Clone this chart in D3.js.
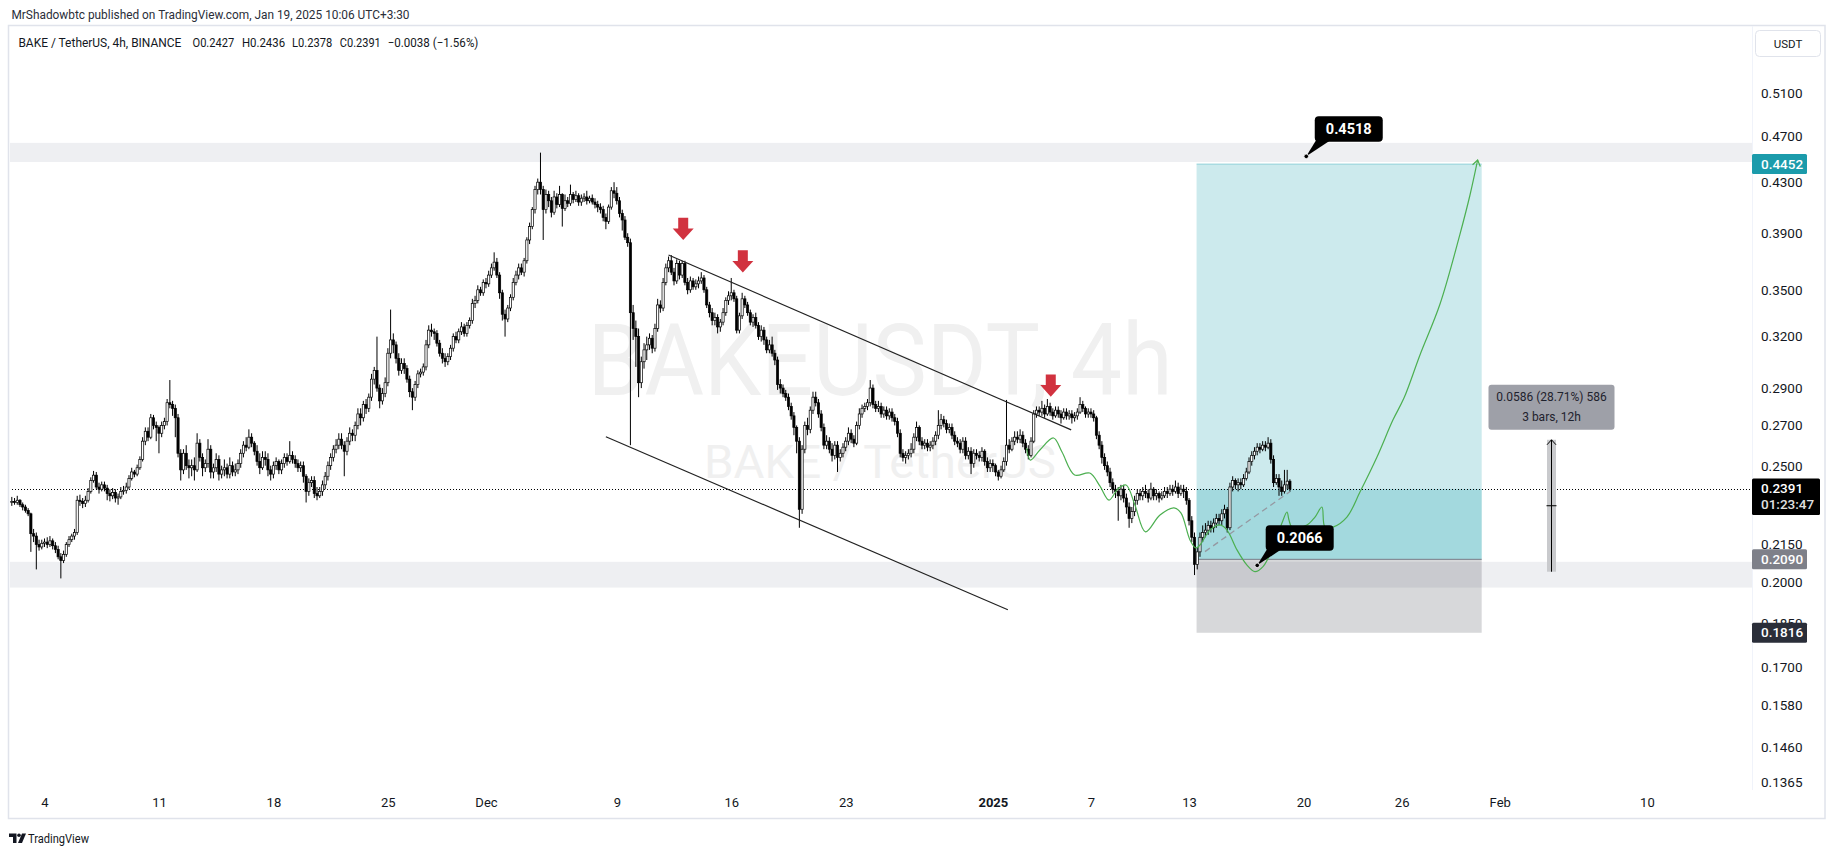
<!DOCTYPE html>
<html><head><meta charset="utf-8">
<script src="https://cdn.jsdelivr.net/npm/d3@7"></script>
<style>
html,body{margin:0;padding:0;background:#fff;}
svg{display:block;font-family:Roboto,"Open Sans",sans-serif;}
</style></head><body>
<svg id="c" width="1835" height="855"></svg>
<script>
// ---------------- DATA ----------------
const startTime = "2024-11-02T00:00:00Z"; // first 4h bar
const firstOpen = 0.2330;
const closes = [
0.2335,0.2330,0.2340,0.2320,0.2310,0.2295,
0.2280,0.2195,0.2185,0.2150,0.2140,0.2155,
0.2160,0.2150,0.2165,0.2145,0.2130,0.2100,
0.2085,0.2110,0.2150,0.2170,0.2185,0.2200,
0.2340,0.2335,0.2325,0.2340,0.2380,0.2430,
0.2455,0.2400,0.2390,0.2410,0.2395,0.2370,
0.2360,0.2375,0.2350,0.2355,0.2380,0.2385,
0.2400,0.2440,0.2470,0.2460,0.2490,0.2530,
0.2620,0.2670,0.2640,0.2740,0.2700,0.2690,
0.2660,0.2700,0.2720,0.2820,0.2810,0.2790,
0.2740,0.2560,0.2480,0.2560,0.2500,0.2490,
0.2500,0.2480,0.2610,0.2540,0.2490,0.2510,
0.2580,0.2470,0.2490,0.2530,0.2460,0.2480,
0.2490,0.2460,0.2500,0.2470,0.2480,0.2510,
0.2560,0.2600,0.2590,0.2640,0.2610,0.2570,
0.2520,0.2490,0.2540,0.2530,0.2480,0.2460,
0.2500,0.2520,0.2480,0.2510,0.2540,0.2520,
0.2550,0.2530,0.2510,0.2490,0.2500,0.2450,
0.2380,0.2420,0.2430,0.2370,0.2360,0.2380,
0.2410,0.2450,0.2500,0.2540,0.2580,0.2600,
0.2630,0.2600,0.2570,0.2620,0.2660,0.2650,
0.2700,0.2760,0.2740,0.2810,0.2790,0.2850,
0.2950,0.3000,0.2900,0.2830,0.2870,0.2930,
0.3100,0.3180,0.3150,0.3070,0.3000,0.3040,
0.3010,0.2950,0.2880,0.2850,0.2920,0.2980,
0.2990,0.3020,0.3150,0.3240,0.3230,0.3220,
0.3160,0.3100,0.3070,0.3050,0.3080,0.3130,
0.3200,0.3180,0.3230,0.3260,0.3220,0.3270,
0.3300,0.3410,0.3430,0.3500,0.3480,0.3550,
0.3540,0.3600,0.3650,0.3690,0.3600,0.3480,
0.3340,0.3310,0.3380,0.3450,0.3550,0.3600,
0.3650,0.3620,0.3700,0.3850,0.3950,0.4080,
0.4240,0.4300,0.4240,0.4080,0.4200,0.4150,
0.4060,0.4180,0.4120,0.4200,0.4090,0.4150,
0.4130,0.4200,0.4160,0.4190,0.4140,0.4170,
0.4180,0.4150,0.4170,0.4140,0.4120,0.4100,
0.4080,0.4020,0.3990,0.4100,0.4230,0.4210,
0.4150,0.4050,0.4000,0.3870,0.3830,0.3350,
0.3250,0.3200,0.2930,0.3050,0.3120,0.3150,
0.3190,0.3130,0.3250,0.3400,0.3380,0.3550,
0.3650,0.3700,0.3620,0.3560,0.3680,0.3600,
0.3680,0.3550,0.3500,0.3560,0.3520,0.3540,
0.3560,0.3580,0.3500,0.3400,0.3350,0.3300,
0.3320,0.3260,0.3290,0.3350,0.3430,0.3460,
0.3480,0.3440,0.3240,0.3330,0.3440,0.3400,
0.3350,0.3290,0.3320,0.3270,0.3200,0.3240,
0.3180,0.3120,0.3150,0.3100,0.3060,0.2920,
0.2900,0.2870,0.2850,0.2800,0.2750,0.2690,
0.2620,0.2300,0.2580,0.2700,0.2680,0.2780,
0.2850,0.2820,0.2760,0.2690,0.2600,0.2620,
0.2580,0.2550,0.2600,0.2540,0.2560,0.2590,
0.2620,0.2660,0.2630,0.2610,0.2700,0.2760,
0.2790,0.2800,0.2820,0.2900,0.2810,0.2790,
0.2800,0.2760,0.2780,0.2750,0.2770,0.2740,
0.2720,0.2660,0.2560,0.2540,0.2550,0.2560,
0.2580,0.2640,0.2690,0.2620,0.2600,0.2610,
0.2590,0.2600,0.2620,0.2650,0.2700,0.2730,
0.2710,0.2680,0.2690,0.2650,0.2620,0.2610,
0.2580,0.2620,0.2550,0.2570,0.2510,0.2560,
0.2550,0.2540,0.2570,0.2520,0.2490,0.2510,
0.2500,0.2470,0.2450,0.2480,0.2520,0.2600,
0.2580,0.2620,0.2640,0.2630,0.2650,0.2610,
0.2580,0.2550,0.2620,0.2760,0.2780,0.2770,
0.2790,0.2760,0.2800,0.2770,0.2750,0.2780,
0.2760,0.2740,0.2770,0.2750,0.2760,0.2740,
0.2750,0.2770,0.2810,0.2790,0.2760,0.2770,
0.2760,0.2740,0.2650,0.2600,0.2540,0.2500,
0.2470,0.2420,0.2390,0.2380,0.2360,0.2390,
0.2350,0.2310,0.2260,0.2290,0.2340,0.2370,
0.2360,0.2380,0.2370,0.2350,0.2390,0.2360,
0.2370,0.2350,0.2360,0.2380,0.2370,0.2390,
0.2380,0.2400,0.2370,0.2390,0.2380,0.2340,
0.2250,0.2180,0.2070,0.2120,0.2180,0.2200,
0.2210,0.2230,0.2220,0.2240,0.2260,0.2250,
0.2280,0.2300,0.2220,0.2400,0.2430,0.2410,
0.2420,0.2410,0.2440,0.2470,0.2520,0.2550,
0.2570,0.2590,0.2580,0.2600,0.2590,0.2610,
0.2530,0.2420,0.2440,0.2400,0.2380,0.2410,
0.2427,0.2391];
const highs = [
0.2355,0.2350,0.2360,0.2345,0.2330,0.2320,
0.2305,0.2285,0.2215,0.2200,0.2170,0.2170,
0.2175,0.2180,0.2185,0.2175,0.2160,0.2145,
0.2115,0.2125,0.2160,0.2185,0.2195,0.2215,
0.2360,0.2365,0.2350,0.2360,0.2395,0.2445,
0.2475,0.2470,0.2420,0.2425,0.2425,0.2410,
0.2390,0.2395,0.2390,0.2370,0.2400,0.2405,
0.2420,0.2455,0.2490,0.2480,0.2505,0.2545,
0.2640,0.2690,0.2690,0.2760,0.2755,0.2720,
0.2700,0.2720,0.2740,0.2840,0.2945,0.2830,
0.2810,0.2760,0.2580,0.2580,0.2600,0.2530,
0.2530,0.2540,0.2660,0.2630,0.2560,0.2530,
0.2630,0.2600,0.2510,0.2560,0.2550,0.2500,
0.2530,0.2510,0.2540,0.2520,0.2510,0.2530,
0.2580,0.2620,0.2640,0.2680,0.2660,0.2620,
0.2600,0.2560,0.2570,0.2570,0.2560,0.2500,
0.2520,0.2540,0.2530,0.2530,0.2560,0.2560,
0.2620,0.2570,0.2550,0.2530,0.2520,0.2520,
0.2460,0.2440,0.2450,0.2450,0.2400,0.2400,
0.2430,0.2470,0.2520,0.2560,0.2600,0.2630,
0.2660,0.2660,0.2620,0.2640,0.2690,0.2680,
0.2720,0.2790,0.2790,0.2830,0.2840,0.2870,
0.2980,0.3020,0.3200,0.2920,0.2900,0.2960,
0.3130,0.3370,0.3220,0.3170,0.3100,0.3070,
0.3070,0.3030,0.2970,0.2900,0.2940,0.3000,
0.3010,0.3040,0.3180,0.3270,0.3280,0.3250,
0.3240,0.3180,0.3130,0.3100,0.3100,0.3150,
0.3220,0.3230,0.3250,0.3290,0.3280,0.3290,
0.3320,0.3440,0.3460,0.3530,0.3520,0.3570,
0.3580,0.3630,0.3680,0.3760,0.3720,0.3620,
0.3500,0.3370,0.3400,0.3470,0.3580,0.3630,
0.3680,0.3680,0.3720,0.3870,0.3980,0.4100,
0.4270,0.4330,0.4550,0.4270,0.4240,0.4230,
0.4180,0.4230,0.4210,0.4270,0.4210,0.4200,
0.4180,0.4280,0.4220,0.4230,0.4210,0.4200,
0.4210,0.4230,0.4190,0.4200,0.4170,0.4150,
0.4130,0.4110,0.4050,0.4120,0.4260,0.4300,
0.4260,0.4180,0.4080,0.4030,0.3900,0.3860,
0.3400,0.3300,0.3250,0.3080,0.3160,0.3200,
0.3220,0.3210,0.3280,0.3440,0.3430,0.3580,
0.3680,0.3730,0.3740,0.3650,0.3710,0.3700,
0.3700,0.3700,0.3580,0.3590,0.3580,0.3570,
0.3590,0.3620,0.3600,0.3520,0.3420,0.3380,
0.3350,0.3340,0.3310,0.3380,0.3450,0.3490,
0.3580,0.3500,0.3460,0.3350,0.3480,0.3460,
0.3420,0.3370,0.3340,0.3350,0.3290,0.3270,
0.3260,0.3200,0.3180,0.3200,0.3120,0.3080,
0.2950,0.2920,0.2890,0.2870,0.2820,0.2770,
0.2700,0.2640,0.2600,0.2720,0.2740,0.2800,
0.2880,0.2880,0.2840,0.2780,0.2710,0.2650,
0.2640,0.2610,0.2620,0.2620,0.2580,0.2610,
0.2640,0.2690,0.2680,0.2650,0.2720,0.2790,
0.2810,0.2820,0.2840,0.2945,0.2920,0.2830,
0.2830,0.2820,0.2800,0.2800,0.2790,0.2790,
0.2760,0.2740,0.2680,0.2580,0.2570,0.2580,
0.2610,0.2660,0.2720,0.2700,0.2640,0.2630,
0.2630,0.2620,0.2640,0.2670,0.2780,0.2760,
0.2750,0.2730,0.2710,0.2710,0.2670,0.2640,
0.2630,0.2640,0.2640,0.2590,0.2590,0.2580,
0.2580,0.2570,0.2590,0.2580,0.2540,0.2530,
0.2530,0.2510,0.2480,0.2500,0.2540,0.2835,
0.2630,0.2640,0.2670,0.2670,0.2680,0.2670,
0.2630,0.2600,0.2640,0.2780,0.2800,0.2800,
0.2830,0.2810,0.2840,0.2820,0.2790,0.2800,
0.2800,0.2780,0.2790,0.2790,0.2780,0.2780,
0.2770,0.2790,0.2850,0.2830,0.2800,0.2790,
0.2790,0.2780,0.2750,0.2670,0.2620,0.2560,
0.2520,0.2490,0.2440,0.2410,0.2400,0.2410,
0.2410,0.2370,0.2330,0.2310,0.2360,0.2390,
0.2390,0.2400,0.2410,0.2390,0.2420,0.2400,
0.2390,0.2380,0.2380,0.2400,0.2400,0.2410,
0.2410,0.2430,0.2420,0.2410,0.2410,0.2400,
0.2350,0.2270,0.2200,0.2140,0.2200,0.2230,
0.2240,0.2250,0.2250,0.2260,0.2280,0.2280,
0.2300,0.2320,0.2310,0.2420,0.2450,0.2440,
0.2440,0.2440,0.2460,0.2490,0.2540,0.2570,
0.2590,0.2610,0.2610,0.2620,0.2620,0.2640,
0.2630,0.2550,0.2460,0.2460,0.2430,0.2480,
0.2480,0.2436];
const lows = [
0.2315,0.2320,0.2320,0.2310,0.2295,0.2285,
0.2270,0.2120,0.2160,0.2050,0.2125,0.2130,
0.2140,0.2135,0.2140,0.2130,0.2115,0.2090,
0.2015,0.2075,0.2100,0.2140,0.2160,0.2170,
0.2190,0.2315,0.2305,0.2310,0.2330,0.2370,
0.2420,0.2390,0.2370,0.2380,0.2380,0.2340,
0.2335,0.2345,0.2330,0.2320,0.2345,0.2365,
0.2370,0.2390,0.2430,0.2445,0.2450,0.2480,
0.2520,0.2600,0.2620,0.2630,0.2680,0.2620,
0.2560,0.2640,0.2680,0.2700,0.2790,0.2750,
0.2640,0.2540,0.2430,0.2460,0.2480,0.2440,
0.2450,0.2430,0.2470,0.2520,0.2450,0.2470,
0.2490,0.2440,0.2440,0.2470,0.2430,0.2440,
0.2450,0.2440,0.2440,0.2450,0.2450,0.2460,
0.2490,0.2540,0.2570,0.2580,0.2590,0.2550,
0.2500,0.2460,0.2480,0.2500,0.2450,0.2430,
0.2440,0.2480,0.2460,0.2460,0.2490,0.2500,
0.2510,0.2510,0.2490,0.2470,0.2470,0.2420,
0.2330,0.2360,0.2400,0.2350,0.2340,0.2350,
0.2360,0.2390,0.2430,0.2480,0.2520,0.2560,
0.2580,0.2580,0.2450,0.2550,0.2600,0.2620,
0.2620,0.2680,0.2700,0.2720,0.2760,0.2770,
0.2830,0.2920,0.2880,0.2790,0.2810,0.2850,
0.2910,0.3070,0.3100,0.3040,0.2970,0.2980,
0.2980,0.2930,0.2850,0.2780,0.2830,0.2900,
0.2960,0.2970,0.3000,0.3130,0.3200,0.3180,
0.3140,0.3080,0.3040,0.3020,0.3030,0.3060,
0.3110,0.3160,0.3160,0.3210,0.3200,0.3200,
0.3250,0.3280,0.3380,0.3410,0.3460,0.3460,
0.3510,0.3520,0.3580,0.3630,0.3580,0.3440,
0.3300,0.3200,0.3290,0.3360,0.3430,0.3530,
0.3570,0.3600,0.3590,0.3680,0.3820,0.3930,
0.4050,0.4200,0.4200,0.3850,0.4050,0.4100,
0.4020,0.4040,0.4090,0.4100,0.3950,0.4070,
0.4100,0.4110,0.4130,0.4140,0.4110,0.4110,
0.4140,0.4120,0.4130,0.4120,0.4090,0.4060,
0.4050,0.3990,0.3930,0.3970,0.4080,0.4170,
0.4120,0.4020,0.3920,0.3850,0.3800,0.2600,
0.3180,0.3020,0.2850,0.2900,0.3010,0.3060,
0.3120,0.3100,0.3110,0.3230,0.3350,0.3360,
0.3530,0.3620,0.3600,0.3530,0.3540,0.3570,
0.3580,0.3530,0.3470,0.3480,0.3500,0.3500,
0.3510,0.3540,0.3480,0.3380,0.3320,0.3270,
0.3270,0.3220,0.3230,0.3270,0.3330,0.3400,
0.3430,0.3420,0.3220,0.3220,0.3310,0.3380,
0.3330,0.3270,0.3260,0.3250,0.3180,0.3170,
0.3150,0.3100,0.3100,0.3080,0.3030,0.2890,
0.2870,0.2850,0.2830,0.2780,0.2730,0.2650,
0.2560,0.2220,0.2280,0.2560,0.2650,0.2660,
0.2760,0.2800,0.2740,0.2670,0.2580,0.2580,
0.2560,0.2520,0.2530,0.2470,0.2520,0.2540,
0.2570,0.2600,0.2610,0.2590,0.2600,0.2680,
0.2740,0.2770,0.2780,0.2800,0.2790,0.2770,
0.2770,0.2740,0.2740,0.2730,0.2730,0.2720,
0.2700,0.2640,0.2540,0.2520,0.2510,0.2530,
0.2540,0.2560,0.2620,0.2600,0.2580,0.2580,
0.2570,0.2570,0.2580,0.2600,0.2630,0.2680,
0.2690,0.2660,0.2660,0.2630,0.2600,0.2590,
0.2560,0.2560,0.2530,0.2530,0.2460,0.2490,
0.2530,0.2520,0.2520,0.2500,0.2470,0.2470,
0.2470,0.2450,0.2430,0.2440,0.2470,0.2500,
0.2560,0.2570,0.2600,0.2610,0.2610,0.2590,
0.2560,0.2530,0.2540,0.2610,0.2740,0.2750,
0.2750,0.2740,0.2750,0.2750,0.2730,0.2740,
0.2740,0.2710,0.2730,0.2730,0.2730,0.2710,
0.2720,0.2730,0.2760,0.2770,0.2740,0.2740,
0.2740,0.2720,0.2630,0.2580,0.2510,0.2480,
0.2450,0.2400,0.2370,0.2350,0.2250,0.2340,
0.2330,0.2280,0.2220,0.2240,0.2270,0.2320,
0.2340,0.2340,0.2350,0.2330,0.2340,0.2340,
0.2340,0.2330,0.2340,0.2350,0.2350,0.2360,
0.2360,0.2370,0.2350,0.2360,0.2350,0.2320,
0.2230,0.2160,0.2028,0.2050,0.2100,0.2160,
0.2180,0.2190,0.2200,0.2200,0.2220,0.2230,
0.2230,0.2260,0.2200,0.2210,0.2380,0.2390,
0.2380,0.2390,0.2400,0.2430,0.2460,0.2500,
0.2530,0.2550,0.2560,0.2570,0.2570,0.2580,
0.2510,0.2400,0.2410,0.2360,0.2360,0.2370,
0.2390,0.2378];

const priceTicks = [0.51,0.47,0.43,0.39,0.35,0.32,0.29,0.27,0.25,0.215,0.20,0.185,0.17,0.158,0.146,0.1365];
const timeTickDates = ["2024-11-04","2024-11-11","2024-11-18","2024-11-25","2024-12-01","2024-12-09","2024-12-16","2024-12-23","2025-01-01","2025-01-07","2025-01-13","2025-01-20","2025-01-26","2025-02-01","2025-02-10"];
const timeTickLabels = ["4","11","18","25","Dec","9","16","23","2025","7","13","20","26","Feb","10"];

const zoneTop = [0.4469, 0.4636];
const zoneBottom = [0.1980, 0.2080];
const lastPrice = 0.2391;
const posEntry = 0.2090, posTarget = 0.4452, posStop = 0.1816;
const posStart = "2025-01-13T11:00:00Z", posEnd = "2025-01-30T21:30:00Z";

const upperLine = [["2024-12-12T04:00:00Z",0.3741],["2025-01-05T19:00:00Z",0.2677]];
const lowerLine = [["2024-12-08T08:00:00Z",0.2642],["2025-01-01T22:00:00Z",0.1898]];
const dashLine = [["2025-01-13T23:20:00Z",0.2121],["2025-01-19T04:00:00Z",0.2379]];
const redArrows = [["2024-12-13T01:30:00Z",0.3849],["2024-12-16T17:00:00Z",0.3617],["2025-01-04T13:00:00Z",0.2852]];

const greenPath = [
["2025-01-03T01:30:00Z",0.2586],["2025-01-03T07:10:00Z",0.2527],["2025-01-03T21:00:00Z",0.2576],
["2025-01-04T17:00:00Z",0.2636],["2025-01-05T05:30:00Z",0.2566],["2025-01-06T00:00:00Z",0.2456],
["2025-01-06T22:15:00Z",0.2465],["2025-01-07T13:00:00Z",0.2405],["2025-01-08T02:30:00Z",0.2341],
["2025-01-08T15:30:00Z",0.2391],["2025-01-09T03:30:00Z",0.2409],["2025-01-09T16:30:00Z",0.2319],
["2025-01-10T08:00:00Z",0.2203],["2025-01-11T05:20:00Z",0.2275],["2025-01-12T01:50:00Z",0.2306],
["2025-01-12T12:00:00Z",0.2284],["2025-01-13T01:20:00Z",0.2169],["2025-01-13T10:00:00Z",0.2136],
["2025-01-13T16:00:00Z",0.2148],["2025-01-14T06:40:00Z",0.2210],["2025-01-14T21:20:00Z",0.2232],
["2025-01-15T07:40:00Z",0.2210],["2025-01-15T22:20:00Z",0.2128],["2025-01-16T13:00:00Z",0.2067],
["2025-01-17T00:40:00Z",0.2041],["2025-01-17T12:30:00Z",0.2061],["2025-01-18T03:00:00Z",0.2136],
["2025-01-18T16:20:00Z",0.2240],["2025-01-18T23:40:00Z",0.2288],["2025-01-19T02:40:00Z",0.2253],
["2025-01-19T07:00:00Z",0.2223],["2025-01-20T05:00:00Z",0.2232],["2025-01-20T16:50:00Z",0.2266],
["2025-01-21T03:00:00Z",0.2310],["2025-01-21T07:30:00Z",0.2223],["2025-01-21T19:10:00Z",0.2223],
["2025-01-22T15:40:00Z",0.2266],["2025-01-23T10:50:00Z",0.2377],["2025-01-24T11:50:00Z",0.2542],
["2025-01-25T11:20:00Z",0.2729],["2025-01-26T03:25:00Z",0.2845],["2025-01-27T02:55:00Z",0.3090],
["2025-01-28T08:20:00Z",0.3406],["2025-01-29T13:40:00Z",0.3894],["2025-01-30T04:20:00Z",0.4196],
["2025-01-30T15:35:00Z",0.4487]];

const callouts = [["2025-01-20T04:00:00Z",0.4518,"0.4518"],["2025-01-17T04:00:00Z",0.2066,"0.2066"]];
const rangeTool = {time:"2025-02-04T03:00:00Z", from:0.2041, to:0.2627, line1:"0.0586 (28.71%) 586", line2:"3 bars, 12h"};

const headerText = "MrShadowbtc published on TradingView.com, Jan 19, 2025 10:06 UTC+3:30";
const legendParts = [["BAKE / TetherUS, 4h, BINANCE",18.4,163],["O0.2427",192.5,41.7],["H0.2436",241.9,43.2],["L0.2378",292,40.2],["C0.2391",339.8,41],["\u22120.0038 (\u22121.56%)",387.7,90.7]];

// ---------------- SCALES ----------------
const svg = d3.select("#c");
const plot = {l:9, r:1752, t:25, b:790};
const x = d3.scaleUtc().domain([new Date("2024-11-04T00:00:00Z"), new Date("2025-02-10T00:00:00Z")]).range([44.5, 1646.9]);
const y = d3.scaleLog().domain([0.1365, 0.51]).range([782, 93]);
const T = s => new Date(s);

svg.append("rect").attr("width",1835).attr("height",855).attr("fill","#fff");

// header
svg.append("text").attr("x",11.5).attr("y",18.5).attr("font-size",12).attr("fill","#2a2e39")
  .attr("textLength",398).attr("lengthAdjust","spacingAndGlyphs").text(headerText);

// frame
svg.append("rect").attr("x",8.5).attr("y",25.5).attr("width",1816.5).attr("height",793)
  .attr("fill","none").attr("stroke","#e0e3eb").attr("stroke-width",1.5);

const defs = svg.append("defs");
defs.append("clipPath").attr("id","pc").append("rect")
  .attr("x",plot.l+1).attr("y",plot.t+1).attr("width",plot.r-plot.l-1).attr("height",plot.b-plot.t);
const pg = svg.append("g").attr("clip-path","url(#pc)");

// watermark
pg.append("text").attr("x",880).attr("y",395).attr("text-anchor","middle").attr("font-size",100)
  .attr("fill","#f0f0f0").attr("textLength",585).attr("lengthAdjust","spacingAndGlyphs").text("BAKEUSDT, 4h");
pg.append("text").attr("x",880).attr("y",478).attr("text-anchor","middle").attr("font-size",46)
  .attr("fill","#f0f0f0").attr("textLength",352).attr("lengthAdjust","spacingAndGlyphs").text("BAKE / TetherUS");

// zones
[zoneTop, zoneBottom].forEach(z=>{
  pg.append("rect").attr("x",plot.l).attr("width",plot.r-plot.l)
    .attr("y",y(z[1])).attr("height",y(z[0])-y(z[1])).attr("fill","#eeeff2");
});

// position tool
const px0 = x(T(posStart)), px1 = x(T(posEnd));
pg.append("rect").attr("x",px0).attr("width",px1-px0).attr("y",y(posTarget)).attr("height",y(posEntry)-y(posTarget))
  .attr("fill","rgba(0,151,167,0.2)");
pg.append("rect").attr("x",px0).attr("width",px1-px0).attr("y",y(lastPrice)).attr("height",y(posEntry)-y(lastPrice))
  .attr("fill","rgba(0,151,167,0.2)");
pg.append("rect").attr("x",px0).attr("width",px1-px0).attr("y",y(posEntry)).attr("height",y(posStop)-y(posEntry))
  .attr("fill","rgba(20,22,34,0.17)");
pg.append("line").attr("x1",px0).attr("x2",px1).attr("y1",y(posTarget)).attr("y2",y(posTarget))
  .attr("stroke","rgba(0,151,167,0.35)").attr("stroke-width",1);
pg.append("line").attr("x1",px0).attr("x2",px1).attr("y1",y(posEntry)).attr("y2",y(posEntry))
  .attr("stroke","#787b86").attr("stroke-width",1);

// last price dotted line
pg.append("line").attr("x1",plot.l).attr("x2",plot.r).attr("y1",Math.round(y(lastPrice))+0.5).attr("y2",Math.round(y(lastPrice))+0.5)
  .attr("stroke","#000").attr("stroke-width",1).attr("stroke-dasharray","1,2");

// candles
const t0 = T(startTime).getTime();
const bars = closes.map((c,i)=>{
  const o = i===0 ? firstOpen : closes[i-1];
  return {t:new Date(t0 + i*4*3600e3), o, c, h:Math.max(highs[i],o,c), l:Math.min(lows[i],o,c)};
});
const cg = pg.append("g");
cg.selectAll("line").data(bars).join("line")
  .attr("x1",d=>x(d.t)).attr("x2",d=>x(d.t)).attr("y1",d=>y(d.h)).attr("y2",d=>y(d.l))
  .attr("stroke","#000").attr("stroke-width",1);
cg.selectAll("rect").data(bars).join("rect")
  .attr("x",d=>x(d.t)-1.1).attr("width",2.2)
  .attr("y",d=>y(Math.max(d.o,d.c))).attr("height",d=>Math.max(0.8,Math.abs(y(d.o)-y(d.c))))
  .attr("fill",d=>d.c>=d.o?"#fff":"#000").attr("stroke","#000").attr("stroke-width",0.7);

// trend lines
[upperLine, lowerLine].forEach(l=>{
  pg.append("line").attr("x1",x(T(l[0][0]))).attr("y1",y(l[0][1])).attr("x2",x(T(l[1][0]))).attr("y2",y(l[1][1]))
    .attr("stroke","#222").attr("stroke-width",1.2);
});
pg.append("line").attr("x1",x(T(dashLine[0][0]))).attr("y1",y(dashLine[0][1])).attr("x2",x(T(dashLine[1][0]))).attr("y2",y(dashLine[1][1]))
  .attr("stroke","#9598a1").attr("stroke-width",1.3).attr("stroke-dasharray","6,4");

// red arrows
redArrows.forEach(a=>{
  const tx = x(T(a[0])), ty = y(a[1]);
  pg.append("path").attr("d",`M${tx-5},${ty-22.3}H${tx+5}V${ty-11.7}H${tx+10.5}L${tx},${ty}L${tx-10.5},${ty-11.7}H${tx-5}Z`)
    .attr("fill","#d1323f");
});

// green projection
const gpts = greenPath.map(p=>[x(T(p[0])), y(p[1])]);
pg.append("path").attr("d", d3.line().curve(d3.curveCatmullRom.alpha(0.5))(gpts))
  .attr("fill","none").attr("stroke","#4caf50").attr("stroke-width",1.2);
{
  const [ex,ey] = gpts[gpts.length-1], [qx,qy] = gpts[gpts.length-2];
  const ang = Math.atan2(ey-qy, ex-qx), L = 7;
  const a1 = ang + Math.PI - 0.6, a2 = ang + Math.PI + 0.6;
  pg.append("path").attr("d",`M${ex+L*Math.cos(a1)},${ey+L*Math.sin(a1)}L${ex},${ey}L${ex+L*Math.cos(a2)},${ey+L*Math.sin(a2)}`)
    .attr("fill","none").attr("stroke","#4caf50").attr("stroke-width",1.2);
}

// range tool
{
  const cx = Math.round(x(T(rangeTool.time)))+0.5, yt = y(rangeTool.to), yb = y(rangeTool.from);
  pg.append("rect").attr("x",cx-4.5).attr("width",9).attr("y",yt).attr("height",yb-yt).attr("fill","#c9cacd");
  pg.append("line").attr("x1",cx).attr("x2",cx).attr("y1",yt).attr("y2",yb).attr("stroke","#000").attr("stroke-width",1);
  pg.append("path").attr("d",`M${cx-4.5},${yt+5}L${cx},${yt}L${cx+4.5},${yt+5}`).attr("fill","none").attr("stroke","#000").attr("stroke-width",1);
  const ym = (yt+yb)/2;
  pg.append("line").attr("x1",cx-5).attr("x2",cx+5).attr("y1",ym).attr("y2",ym).attr("stroke","#000").attr("stroke-width",1);
  const bw = 126, bh = 45, by = yt-10-bh;
  pg.append("rect").attr("x",cx-bw/2).attr("y",by).attr("width",bw).attr("height",bh).attr("rx",3).attr("fill","#9ea0a8");
  pg.append("text").attr("x",cx).attr("y",by+16).attr("text-anchor","middle").attr("font-size",12).attr("fill","#1e222d").text(rangeTool.line1);
  pg.append("text").attr("x",cx).attr("y",by+36).attr("text-anchor","middle").attr("font-size",12).attr("fill","#1e222d").text(rangeTool.line2);
}

// callouts
callouts.forEach(c=>{
  const dx = x(T(c[0])), dy = y(c[1]);
  const bx = dx+8.5, byy = dy-40, bw = 68, bh = 25.5;
  pg.append("path").attr("d",`M${bx+1},${byy+bh-1}L${bx+15},${byy+bh-1}L${dx},${dy}Z`).attr("fill","#000");
  pg.append("rect").attr("x",bx).attr("y",byy).attr("width",bw).attr("height",bh).attr("rx",4).attr("fill","#000");
  pg.append("text").attr("x",bx+bw/2).attr("y",byy+bh/2+5).attr("text-anchor","middle").attr("font-size",14.5)
    .attr("font-weight","bold").attr("fill","#fff").text(c[2]);
  pg.append("circle").attr("cx",dx).attr("cy",dy).attr("r",2.3).attr("fill","#000").attr("stroke","#fff").attr("stroke-width",0.8);
});

// legend
legendParts.forEach(p=>{
  svg.append("text").attr("x",p[1]).attr("y",46.5).attr("font-size",12).attr("fill","#131722")
    .attr("textLength",p[2]).attr("lengthAdjust","spacingAndGlyphs").text(p[0]);
});

// price axis
svg.append("line").attr("x1",plot.r+0.5).attr("x2",plot.r+0.5).attr("y1",plot.t+1).attr("y2",plot.b).attr("stroke","#f0f3fa");
const ay = svg.append("g").attr("transform",`translate(${plot.r},0)`)
  .call(d3.axisRight(y).tickValues(priceTicks).tickFormat(d3.format(".4f")).tickSize(0).tickPadding(9));
ay.select(".domain").remove();
ay.selectAll("text").attr("font-size",13.5).attr("fill","#131722").attr("font-family","Roboto,sans-serif");

// price labels
function priceLabel(p, bg, w, lines){
  const yy = y(p);
  const h = lines.length>1 ? 36.5 : 20;
  const top = lines.length>1 ? yy-10.5 : yy-10;
  svg.append("rect").attr("x",plot.r).attr("y",top).attr("width",w).attr("height",h).attr("rx",1.5).attr("fill",bg);
  lines.forEach((s,i)=>{
    svg.append("text").attr("x",plot.r+9).attr("y",top+14.5+i*16).attr("font-size",13.5).attr("fill",i?"#e0e0e0":"#fff")
      .attr("font-weight","500").text(s);
  });
}
priceLabel(posTarget,"#1b9bab",55,[d3.format(".4f")(posTarget)]);
priceLabel(posEntry,"#7e8089",55,[d3.format(".4f")(posEntry)]);
priceLabel(posStop,"#2a2e39",55,[d3.format(".4f")(posStop)]);
priceLabel(lastPrice,"#000",68,[d3.format(".4f")(lastPrice),"01:23:47"]);

// USDT button
svg.append("rect").attr("x",1755.5).attr("y",30.5).attr("width",65).attr("height",26).attr("rx",4)
  .attr("fill","#fff").attr("stroke","#e0e3eb");
svg.append("text").attr("x",1788).attr("y",47.5).attr("text-anchor","middle").attr("font-size",11.5).attr("fill","#131722").text("USDT");

// time axis
const ax = svg.append("g").attr("transform",`translate(0,${plot.b})`)
  .call(d3.axisBottom(x).tickValues(timeTickDates.map(d=>T(d+"T00:00:00Z"))).tickFormat((d,i)=>timeTickLabels[i]).tickSize(0).tickPadding(8));
ax.select(".domain").remove();
ax.selectAll("text").attr("font-size",13).attr("fill","#131722").attr("font-family","Roboto,sans-serif")
  .attr("font-weight",(d,i)=>timeTickLabels[i]==="2025"?"bold":"normal");

// TradingView logo
const lg = svg.append("g").attr("fill","#131722");
lg.append("path").attr("d","M9,833.5H16.5V843H13V837H9Z");
lg.append("circle").attr("cx",19).attr("cy",835.3).attr("r",1.8);
lg.append("path").attr("d","M22,833.5H26L22,843H18Z");
svg.append("text").attr("x",28).attr("y",842.5).attr("font-size",12).attr("fill","#131722")
  .attr("textLength",61).attr("lengthAdjust","spacingAndGlyphs").text("TradingView");
</script>
</body></html>
